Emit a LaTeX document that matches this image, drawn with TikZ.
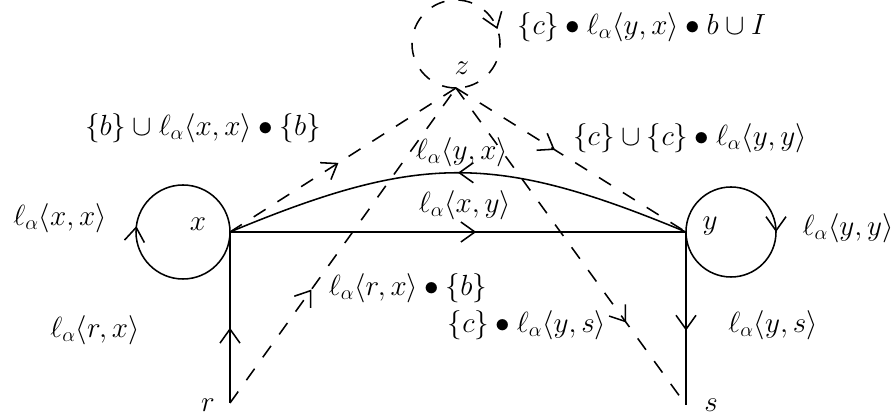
\documentclass[tikz,border=0pt]{standalone}
\usepackage{amsmath}
\usepackage{tikz}
\usetikzlibrary{arrows.meta,decorations.markings,calc}

\begin{document}
\begin{tikzpicture}[
    x=0.025cm,y=0.025cm,
    font=\huge,
    vlabel/.style={inner sep=1pt},
    elabel/.style={inner sep=1pt},
    edge/.style={line width=1.1pt},
    dedge/.style={line width=1.1pt,dash pattern=on 10pt off 10pt},
    midarrow/.style={postaction={decorate},decoration={markings,
        mark=at position #1 with {\arrow[line width=1.1pt]{Straight Barb[length=3.5mm,width=5mm]}}}},
]
\useasboundingbox (0,0) rectangle (894,420);

% --- points ---
\coordinate (x) at (230,188);
\coordinate (y) at (686,188);
\coordinate (r) at (230,17);
\coordinate (s) at (686,15);
\coordinate (z) at (456,332);

% vertex labels
\node[vlabel] (xl) at (198,196) {$x$};
\node[vlabel] (yl) at (710,194) {$y$};
\node[vlabel] (zl) at (462,352) {$z$};
\node[vlabel] (rl) at (208,15)  {$r$};
\node[vlabel] (sl) at (711,15)  {$s$};

% --- solid edges ---
\draw[edge,midarrow=0.44] (r) -- (x);
\draw[edge,midarrow=0.54] (x) -- (y);
\draw[edge,midarrow=0.5]  (y) .. controls ($(y)+(-190,79)$) and ($(x)+(190,79)$) .. (x);
\draw[edge,midarrow=0.57] (y) -- (s);
\draw[edge,midarrow=0.52] (x) arc[start angle=0,end angle=-360,radius=47];
\draw[edge,midarrow=0.5]  (y) arc[start angle=180,end angle=-180,radius=45];

% --- dashed edges through z ---
\draw[dedge,midarrow=0.48] (x) -- (z);
\draw[dedge,midarrow=0.36] (r) -- (z);
\draw[dedge,midarrow=0.43] (z) -- (y);
\draw[dedge,midarrow=0.74] (z) -- (s);
\draw[dedge,midarrow=0.695] (z) arc[start angle=270,end angle=-90,radius=44];

% edge labels
\node[elabel] (lxx) at (60,202)  {$\ell_\alpha\langle x,x\rangle$};
\node[elabel] (lrx) at (95,90)   {$\ell_\alpha\langle r,x\rangle$};
\node[elabel] (lxy) at (465,215) {$\ell_\alpha\langle x,y\rangle$};
\node[elabel] (lyx) at (462,268) {$\ell_\alpha\langle y,x\rangle$};
\node[elabel] (lyy) at (848,192) {$\ell_\alpha\langle y,y\rangle$};
\node[elabel] (lys) at (773,95)  {$\ell_\alpha\langle y,s\rangle$};
\node[elabel] (lxz) at (203,292) {$\{b\}\cup\ell_\alpha\langle x,x\rangle\bullet\{b\}$};
\node[elabel] (lrz) at (408,132) {$\ell_\alpha\langle r,x\rangle\bullet\{b\}$};
\node[elabel] (lzy) at (690,282) {$\{c\}\cup\{c\}\bullet\ell_\alpha\langle y,y\rangle$};
\node[elabel] (lzs) at (527,95)  {$\{c\}\bullet\ell_\alpha\langle y,s\rangle$};
\node[elabel] (lzz) at (642,393) {$\{c\}\bullet\ell_\alpha\langle y,x\rangle\bullet b\cup I$};
\end{tikzpicture}
\end{document}
